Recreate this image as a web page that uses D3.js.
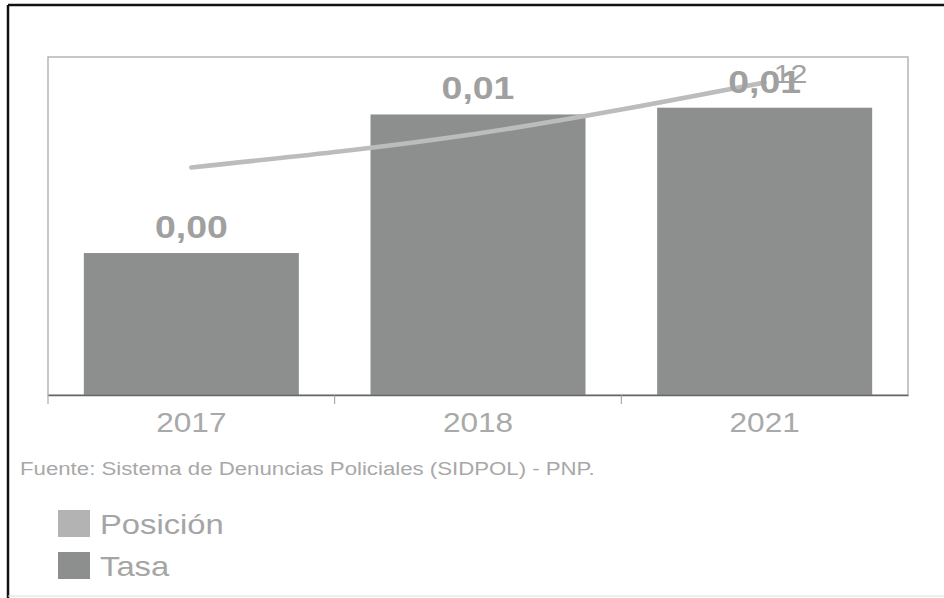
<!DOCTYPE html>
<html>
<head>
<meta charset="utf-8">
<script src="https://cdn.jsdelivr.net/npm/d3@7"></script>
<style>
  body { margin: 0; background: #fff; }
  svg { display: block; }
  text { font-family: "Liberation Sans", Arial, sans-serif; }
</style>
</head>
<body>
<svg id="chart" width="944" height="598"></svg>
<script>
const categories = ["2017", "2018", "2021"];
const tasaValues = [0.0042, 0.0083, 0.0085];
const posicionValues = [17, 15, 12];
const legendLabels = ["Posición", "Tasa"];
const sourceText = "Fuente: Sistema de Denuncias Policiales (SIDPOL) - PNP.";

const svg = d3.select("#chart");
const plot = { left: 48, right: 908, top: 57, bottom: 395 };
const SX = 1.17; // horizontal stretch of the reference's lettering

function stretchedText(parent, px, py, str, anchor) {
  const g = parent.append("g").attr("transform", `translate(${px},${py}) scale(${SX},1)`);
  return g.append("text").attr("text-anchor", anchor || "start").text(str);
}

// outer frame
svg.append("line").attr("x1", 8).attr("x2", 944).attr("y1", 5).attr("y2", 5)
  .attr("stroke", "#111").attr("stroke-width", 2.5);
svg.append("line").attr("x1", 8).attr("x2", 8).attr("y1", 5).attr("y2", 598)
  .attr("stroke", "#111").attr("stroke-width", 2.5);
svg.append("line").attr("x1", 8).attr("x2", 944).attr("y1", 596).attr("y2", 596)
  .attr("stroke", "#ddd").attr("stroke-width", 1);

const x = d3.scaleBand().domain(categories).range([plot.left, plot.right])
  .paddingInner(0.25).paddingOuter(0.125);
const y = d3.scaleLinear().domain([0, 0.01]).range([plot.bottom, plot.top]);
const y2 = d3.scaleLinear().domain([30.4, 10.5]).range([plot.bottom, plot.top]);

// plot box
svg.append("rect").attr("x", plot.left).attr("y", plot.top)
  .attr("width", plot.right - plot.left).attr("height", plot.bottom - plot.top)
  .attr("fill", "none").attr("stroke", "#b5b5b5").attr("stroke-width", 1.5);

// bars
svg.selectAll("rect.bar").data(categories).join("rect").attr("class", "bar")
  .attr("x", d => x(d)).attr("width", x.bandwidth())
  .attr("y", (d, i) => y(tasaValues[i]))
  .attr("height", (d, i) => y(0) - y(tasaValues[i]))
  .attr("fill", "#8d8f8e");

// x axis
const xAxis = d3.axisBottom(x).tickSize(0).tickFormat("");
const gx = svg.append("g").attr("transform", `translate(0,${plot.bottom})`).call(xAxis);
gx.select(".domain").attr("stroke", "#666").attr("stroke-width", 1.5);
categories.forEach(c => {
  stretchedText(svg, x(c) + x.bandwidth() / 2, 432, c, "middle")
    .attr("font-size", 27).attr("fill", "#a9a9a9");
});

// separators between categories
const seps = [plot.left, ...categories.slice(1).map(c => x(c) - x.step() * x.paddingInner() / 2)];
svg.selectAll("line.sep").data(seps).join("line").attr("class", "sep")
  .attr("x1", d => d).attr("x2", d => d)
  .attr("y1", plot.bottom).attr("y2", plot.bottom + 9)
  .attr("stroke", "#999").attr("stroke-width", 1);

// line (Posición)
const line = d3.line()
  .x((d, i) => x(categories[i]) + x.bandwidth() / 2)
  .y(d => y2(d))
  .curve(d3.curveMonotoneX);
svg.append("path").datum(posicionValues).attr("d", line)
  .attr("fill", "none").attr("stroke", "#bcbcbc").attr("stroke-width", 4.5)
  .attr("stroke-linecap", "round");

// bar value labels
const fmt = v => d3.format(".2f")(v).replace(".", ",");
categories.forEach((c, i) => {
  stretchedText(svg, x(c) + x.bandwidth() / 2, y(tasaValues[i]) - 15, fmt(tasaValues[i]), "middle")
    .attr("font-size", 32).attr("font-weight", "bold").attr("fill", "#a0a0a0");
});

// line end label
const lastIdx = categories.length - 1;
stretchedText(svg, x(categories[lastIdx]) + x.bandwidth() / 2 + 9, y2(posicionValues[lastIdx]) + 1,
  String(posicionValues[lastIdx]), "start")
  .attr("font-size", 26).attr("fill", "#a3a3a3");

// source
stretchedText(svg, 20, 475, sourceText, "start")
  .attr("font-size", 19).attr("fill", "#a8a8a8");

// legend
const legendColors = ["#b3b3b3", "#8d8f8e"];
legendLabels.forEach((lab, i) => {
  const yy = 510 + i * 42;
  svg.append("rect").attr("x", 58).attr("y", yy).attr("width", 32).attr("height", 27)
    .attr("fill", legendColors[i]);
  stretchedText(svg, 100, yy + 24, lab, "start")
    .attr("font-size", 28).attr("fill", "#a5a5a5");
});
</script>
</body>
</html>
